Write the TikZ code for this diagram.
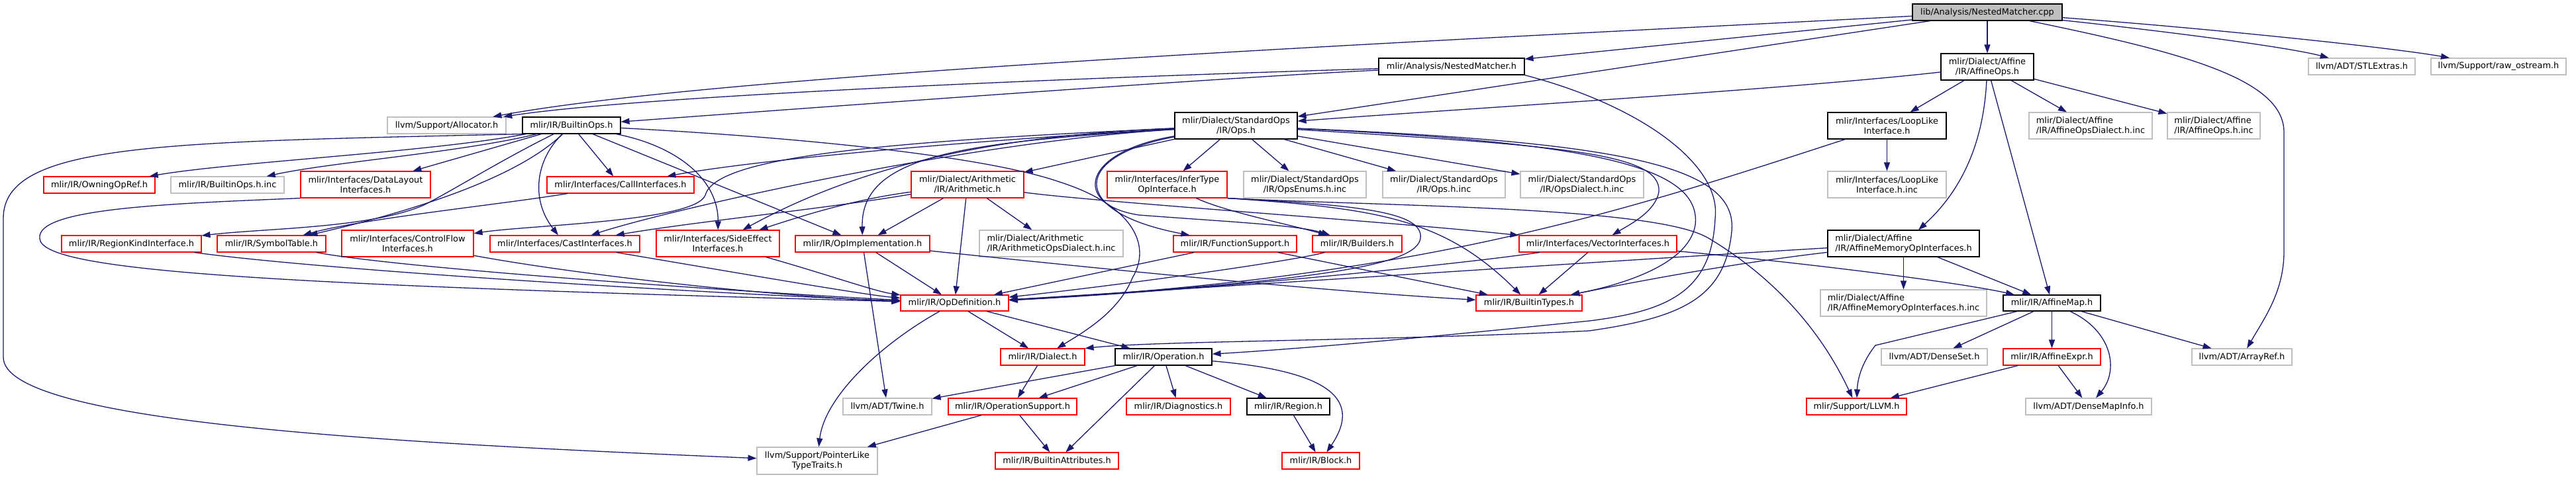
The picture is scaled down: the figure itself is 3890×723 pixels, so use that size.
\documentclass[tikz,border=0pt]{standalone}
\usepackage{fontspec}
\newfontfamily\dxfam{DejaVu Sans}
\usetikzlibrary{arrows.meta}
\definecolor{lnkcol}{HTML}{191970}
\definecolor{dxred}{HTML}{FF0000}
\definecolor{dxgray}{HTML}{BFBFBF}
\tikzset{
  bx/.style={rectangle, draw, fill=white, inner sep=0pt, line width=1.1pt,
    font=\dxfam\fontsize{12.9}{15}\selectfont, align=center},
  redb/.style={bx, draw=dxred},
  grayb/.style={bx, draw=dxgray},
  graybl/.style={grayb, align=left},
  blackb/.style={bx, draw=black},
  blackbl/.style={blackb, align=left},
  rootb/.style={bx, draw=black, fill=dxgray},
  lnk/.style={draw=lnkcol, line width=1.3pt, -{Triangle[length=13pt,width=9pt]}},
}
\newcommand{\dxnode}[7]{%
  \pgfmathsetmacro\dxcx{(#3+#4)/2}\pgfmathsetmacro\dxcy{(#5+#6)/2}%
  \pgfmathsetmacro\dxw{#4-#3}\pgfmathsetmacro\dxh{#6-#5}%
  \node[#1, minimum width=\dxw pt, minimum height=\dxh pt] (#2) at (\dxcx,\dxcy) {#7};}
\begin{document}
\begin{tikzpicture}[x=1pt,y=-1pt]
\fill[white] (0,0) rectangle (3890,723);
\useasboundingbox (0,0) rectangle (3890,723);
% nodes
\dxnode{rootb}{cpp}{2888}{3114}{6}{31}{lib/Analysis/NestedMatcher.cpp}
\dxnode{blackb}{nmh}{2082}{2302}{88}{113}{mlir/Analysis/NestedMatcher.h}
\dxnode{blackb}{aops}{2931}{3071}{81}{121}{mlir/Dialect/Affine\\/IR/AffineOps.h}
\dxnode{grayb}{stlx}{3486}{3647}{88}{113}{llvm/ADT/STLExtras.h}
\dxnode{grayb}{rawo}{3671}{3875}{88}{113}{llvm/Support/raw\_ostream.h}
\dxnode{grayb}{alloc}{585}{764}{177}{202}{llvm/Support/Allocator.h}
\dxnode{blackb}{bops}{789}{937}{177}{202}{mlir/IR/BuiltinOps.h}
\dxnode{blackb}{sops}{1774}{1959}{170}{210}{mlir/Dialect/StandardOps\\/IR/Ops.h}
\dxnode{blackb}{loop}{2760}{2939}{170}{210}{mlir/Interfaces/LoopLike\\Interface.h}
\dxnode{graybl}{aodi}{3064}{3250}{170}{210}{mlir/Dialect/Affine\\/IR/AffineOpsDialect.h.inc}
\dxnode{graybl}{aoinc}{3273}{3413}{170}{210}{mlir/Dialect/Affine\\/IR/AffineOps.h.inc}
\dxnode{redb}{owning}{66}{234}{267}{292}{mlir/IR/OwningOpRef.h}
\dxnode{grayb}{boinc}{258}{429}{267}{292}{mlir/IR/BuiltinOps.h.inc}
\dxnode{redb}{dlay}{454}{650}{259}{299}{mlir/Interfaces/DataLayout\\Interfaces.h}
\dxnode{redb}{call}{826}{1048}{267}{292}{mlir/Interfaces/CallInterfaces.h}
\dxnode{redb}{arith}{1376}{1546}{259}{299}{mlir/Dialect/Arithmetic\\/IR/Arithmetic.h}
\dxnode{redb}{infer}{1672}{1853}{259}{299}{mlir/Interfaces/InferType\\OpInterface.h}
\dxnode{grayb}{enums}{1878}{2063}{259}{299}{mlir/Dialect/StandardOps\\/IR/OpsEnums.h.inc}
\dxnode{grayb}{opsinc}{2088}{2273}{259}{299}{mlir/Dialect/StandardOps\\/IR/Ops.h.inc}
\dxnode{grayb}{opsdi}{2296}{2482}{259}{299}{mlir/Dialect/StandardOps\\/IR/OpsDialect.h.inc}
\dxnode{grayb}{loopinc}{2760}{2939}{259}{299}{mlir/Interfaces/LoopLike\\Interface.h.inc}
\dxnode{redb}{regk}{93}{304}{356}{381}{mlir/IR/RegionKindInterface.h}
\dxnode{redb}{symt}{328}{492}{356}{381}{mlir/IR/SymbolTable.h}
\dxnode{redb}{cflow}{516}{715}{348}{388}{mlir/Interfaces/ControlFlow\\Interfaces.h}
\dxnode{redb}{cast}{740}{966}{356}{381}{mlir/Interfaces/CastInterfaces.h}
\dxnode{redb}{side}{991}{1177}{348}{388}{mlir/Interfaces/SideEffect\\Interfaces.h}
\dxnode{redb}{opimpl}{1201}{1404}{356}{381}{mlir/IR/OpImplementation.h}
\dxnode{graybl}{aridi}{1479}{1696}{348}{388}{mlir/Dialect/Arithmetic\\/IR/ArithmeticOpsDialect.h.inc}
\dxnode{redb}{funcs}{1772}{1958}{356}{381}{mlir/IR/FunctionSupport.h}
\dxnode{redb}{build}{1982}{2117}{356}{381}{mlir/IR/Builders.h}
\dxnode{redb}{vect}{2294}{2532}{356}{381}{mlir/Interfaces/VectorInterfaces.h}
\dxnode{blackbl}{amem}{2760}{2989}{348}{388}{mlir/Dialect/Affine\\/IR/AffineMemoryOpInterfaces.h}
\dxnode{redb}{opdef}{1360}{1523}{446}{470}{mlir/IR/OpDefinition.h}
\dxnode{redb}{btypes}{2229}{2389}{446}{470}{mlir/IR/BuiltinTypes.h}
\dxnode{graybl}{amemi}{2749}{3000}{438}{478}{mlir/Dialect/Affine\\/IR/AffineMemoryOpInterfaces.h.inc}
\dxnode{blackb}{amap}{3025}{3172}{446}{470}{mlir/IR/AffineMap.h}
\dxnode{redb}{dial}{1511}{1638}{527}{552}{mlir/IR/Dialect.h}
\dxnode{blackb}{oper}{1684}{1830}{527}{552}{mlir/IR/Operation.h}
\dxnode{grayb}{dset}{2841}{3001}{527}{552}{llvm/ADT/DenseSet.h}
\dxnode{redb}{aexpr}{3025}{3172}{527}{552}{mlir/IR/AffineExpr.h}
\dxnode{grayb}{aref}{3310}{3461}{527}{552}{llvm/ADT/ArrayRef.h}
\dxnode{grayb}{twine}{1273}{1407}{602}{627}{llvm/ADT/Twine.h}
\dxnode{redb}{opsup}{1432}{1626}{602}{627}{mlir/IR/OperationSupport.h}
\dxnode{redb}{diag}{1701}{1858}{602}{627}{mlir/IR/Diagnostics.h}
\dxnode{blackb}{region}{1883}{2008}{602}{627}{mlir/IR/Region.h}
\dxnode{redb}{llvmh}{2728}{2879}{602}{627}{mlir/Support/LLVM.h}
\dxnode{grayb}{dmi}{3059}{3249}{602}{627}{llvm/ADT/DenseMapInfo.h}
\dxnode{grayb}{ptr}{1143}{1325}{676}{717}{llvm/Support/PointerLike\\TypeTraits.h}
\dxnode{redb}{battr}{1503}{1689}{684}{709}{mlir/IR/BuiltinAttributes.h}
\dxnode{redb}{block}{1936}{2053}{684}{709}{mlir/IR/Block.h}
% root edges
\draw[lnk] (cpp) -- (nmh);
\draw[lnk] (cpp) -- (sops);
\draw[lnk] (cpp) .. controls (2200,60) and (1100,110) .. (alloc);
\draw[lnk] (cpp) -- (aops);
\draw[lnk] (cpp) .. controls (3250,45) and (3450,70) .. (stlx);
\draw[lnk] (cpp) .. controls (3300,40) and (3600,70) .. (rawo);
\draw[lnk] (cpp) .. controls (3300,80) and (3449,120) .. (3449,200) -- (3449,380) .. controls (3449,440) and (3420,480) .. (aref);
% NestedMatcher.h
\draw[lnk] (nmh) .. controls (1800,112) and (1000,140) .. (alloc);
\draw[lnk] (nmh) .. controls (1800,120) and (1200,165) .. (bops);
\draw[lnk] (nmh.south east) .. controls (2480,160) and (2600,250) .. (2590,330) .. controls (2585,440) and (2520,470) .. (2400,485) .. controls (2200,505) and (2000,525) .. (oper);
% AffineOps.h
\draw[lnk] (aops) .. controls (2700,135) and (2200,165) .. (sops);
\draw[lnk] (aops) -- (loop);
\draw[lnk] (aops) .. controls (2995,220) and (2960,290) .. (amem);
\draw[lnk] (aops) -- (amap);
\draw[lnk] (aops) -- (aodi);
\draw[lnk] (aops) -- (aoinc);
% BuiltinOps.h
\draw[lnk] (bops.south west) .. controls (250,215) and (5,215) .. (5,330) -- (5,540) .. controls (5,640) and (600,670) .. (ptr);
\draw[lnk] (bops) .. controls (650,230) and (350,245) .. (owning);
\draw[lnk] (bops) .. controls (700,230) and (500,245) .. (boinc);
\draw[lnk] (bops) -- (dlay);
\draw[lnk] (bops) .. controls (760,240) and (680,290) .. (640,310) .. controls (560,345) and (400,345) .. (regk);
\draw[lnk] (bops) .. controls (780,270) and (620,320) .. (symt);
\draw[lnk] (bops) -- (call);
\draw[lnk] (bops) .. controls (810,240) and (800,300) .. (cast);
\draw[lnk] (bops) .. controls (1020,220) and (1085,270) .. (side);
\draw[lnk] (bops) -- (opimpl);
\draw[lnk] (bops) .. controls (1250,210) and (1500,240) .. (1600,275) .. controls (1710,310) and (1740,370) .. (1710,420) .. controls (1690,470) and (1640,500) .. (dial);
% StandardOps Ops.h
\draw[lnk] (sops) -- (arith);
\draw[lnk] (sops) -- (infer);
\draw[lnk] (sops) -- (enums);
\draw[lnk] (sops) -- (opsinc);
\draw[lnk] (sops) -- (opsdi);
\draw[lnk] (sops) .. controls (1500,210) and (1150,240) .. (call);
\draw[lnk] (sops) .. controls (1450,215) and (1000,320) .. (cast);
\draw[lnk] (sops) .. controls (1300,215) and (1080,240) .. (1065,295) .. controls (1050,335) and (800,340) .. (cflow);
\draw[lnk] (sops) .. controls (1500,205) and (1300,250) .. (side);
\draw[lnk] (sops) .. controls (1450,215) and (1300,235) .. (opimpl);
\draw[lnk] (sops) .. controls (1620,235) and (1610,320) .. (funcs);
\draw[lnk] (sops) .. controls (1630,230) and (1620,310) .. (1720,325) .. controls (1850,335) and (1960,340) .. (build);
\draw[lnk] (sops) .. controls (2350,220) and (2510,230) .. (2505,290) .. controls (2500,320) and (2460,340) .. (vect);
\draw[lnk] (sops) .. controls (2400,215) and (2570,250) .. (2560,340) .. controls (2550,400) and (2450,430) .. (btypes);
\draw[lnk] (sops) .. controls (2450,215) and (2625,250) .. (2615,350) .. controls (2605,450) and (2540,480) .. (2400,500) .. controls (2100,515) and (1750,515) .. (dial.north east);
% Arithmetic.h
\draw[lnk] (arith) -- (opdef);
\draw[lnk] (arith) -- (opimpl);
\draw[lnk] (arith) -- (aridi);
\draw[lnk] (arith) .. controls (1250,315) and (1050,335) .. (cast);
\draw[lnk] (arith) .. controls (1300,300) and (1230,320) .. (side);
\draw[lnk] (arith) .. controls (1650,305) and (2100,335) .. (vect);
% InferTypeOpInterface.h
\draw[lnk] (infer) .. controls (1850,320) and (1950,340) .. (build);
\draw[lnk] (infer.south east) .. controls (2050,310) and (2150,320) .. (2145,360) .. controls (2140,400) and (2000,425) .. (opdef);
\draw[lnk] (infer.south east) .. controls (2100,312) and (2500,312) .. (2580,360) .. controls (2680,420) and (2750,500) .. (llvmh);
\draw[lnk] (infer.south east) .. controls (2080,315) and (2180,330) .. (btypes);
% FunctionSupport, Builders, VectorInterfaces
\draw[lnk] (funcs) -- (opdef);
\draw[lnk] (funcs) -- (btypes);
\draw[lnk] (build) .. controls (1950,395) and (1700,430) .. (opdef);
\draw[lnk] (vect) .. controls (2200,400) and (1800,440) .. (opdef);
\draw[lnk] (vect) -- (btypes);
\draw[lnk] (vect) .. controls (2700,395) and (2950,425) .. (amap);
% LoopLike, AffineMemoryOpInterfaces
\draw[lnk] (loop) -- (loopinc);
\draw[lnk] (loop) .. controls (2450,320) and (2150,420) .. (opdef);
\draw[lnk] (amem) -- (amemi);
\draw[lnk] (amem) -- (amap);
\draw[lnk] (amem) .. controls (2500,390) and (1900,430) .. (opdef);
\draw[lnk] (amem) .. controls (2600,400) and (2450,430) .. (btypes);
% interfaces to OpDefinition
\draw[lnk] (opimpl) -- (opdef);
\draw[lnk] (opimpl) -- (twine);
\draw[lnk] (opimpl) .. controls (1700,410) and (2000,440) .. (btypes);
\draw[lnk] (cast) .. controls (1100,410) and (1300,445) .. (opdef);
\draw[lnk] (side) .. controls (1250,415) and (1320,440) .. (opdef);
\draw[lnk] (cflow) .. controls (900,420) and (1200,450) .. (opdef);
\draw[lnk] (regk) .. controls (500,410) and (1100,445) .. (opdef);
\draw[lnk] (symt) .. controls (600,405) and (1100,440) .. (opdef);
\draw[lnk] (dlay.south west) .. controls (250,308) and (55,315) .. (60,360) .. controls (60,410) and (400,430) .. (opdef);
\draw[lnk] (call) .. controls (750,310) and (550,330) .. (symt);
% OpDefinition and below
\draw[lnk] (opdef) -- (dial);
\draw[lnk] (opdef) -- (oper);
\draw[lnk] (opdef) .. controls (1330,520) and (1245,600) .. (ptr);
\draw[lnk] (dial) -- (opsup);
\draw[lnk] (oper) -- (twine);
\draw[lnk] (oper) -- (opsup);
\draw[lnk] (oper) -- (battr);
\draw[lnk] (oper) -- (diag);
\draw[lnk] (oper) -- (region);
\draw[lnk] (oper) .. controls (2000,560) and (2060,600) .. (block);
\draw[lnk] (region) -- (block);
\draw[lnk] (opsup) -- (ptr);
\draw[lnk] (opsup) -- (battr);
% AffineMap and AffineExpr
\draw[lnk] (amap) -- (2832,522) .. controls (2810,550) and (2805,575) .. (llvmh);
\draw[lnk] (amap) -- (dset);
\draw[lnk] (amap) -- (aexpr);
\draw[lnk] (amap) .. controls (3190,500) and (3200,560) .. (dmi);
\draw[lnk] (amap) -- (aref);
\draw[lnk] (aexpr) -- (llvmh);
\draw[lnk] (aexpr) -- (dmi);
\end{tikzpicture}
\end{document}
